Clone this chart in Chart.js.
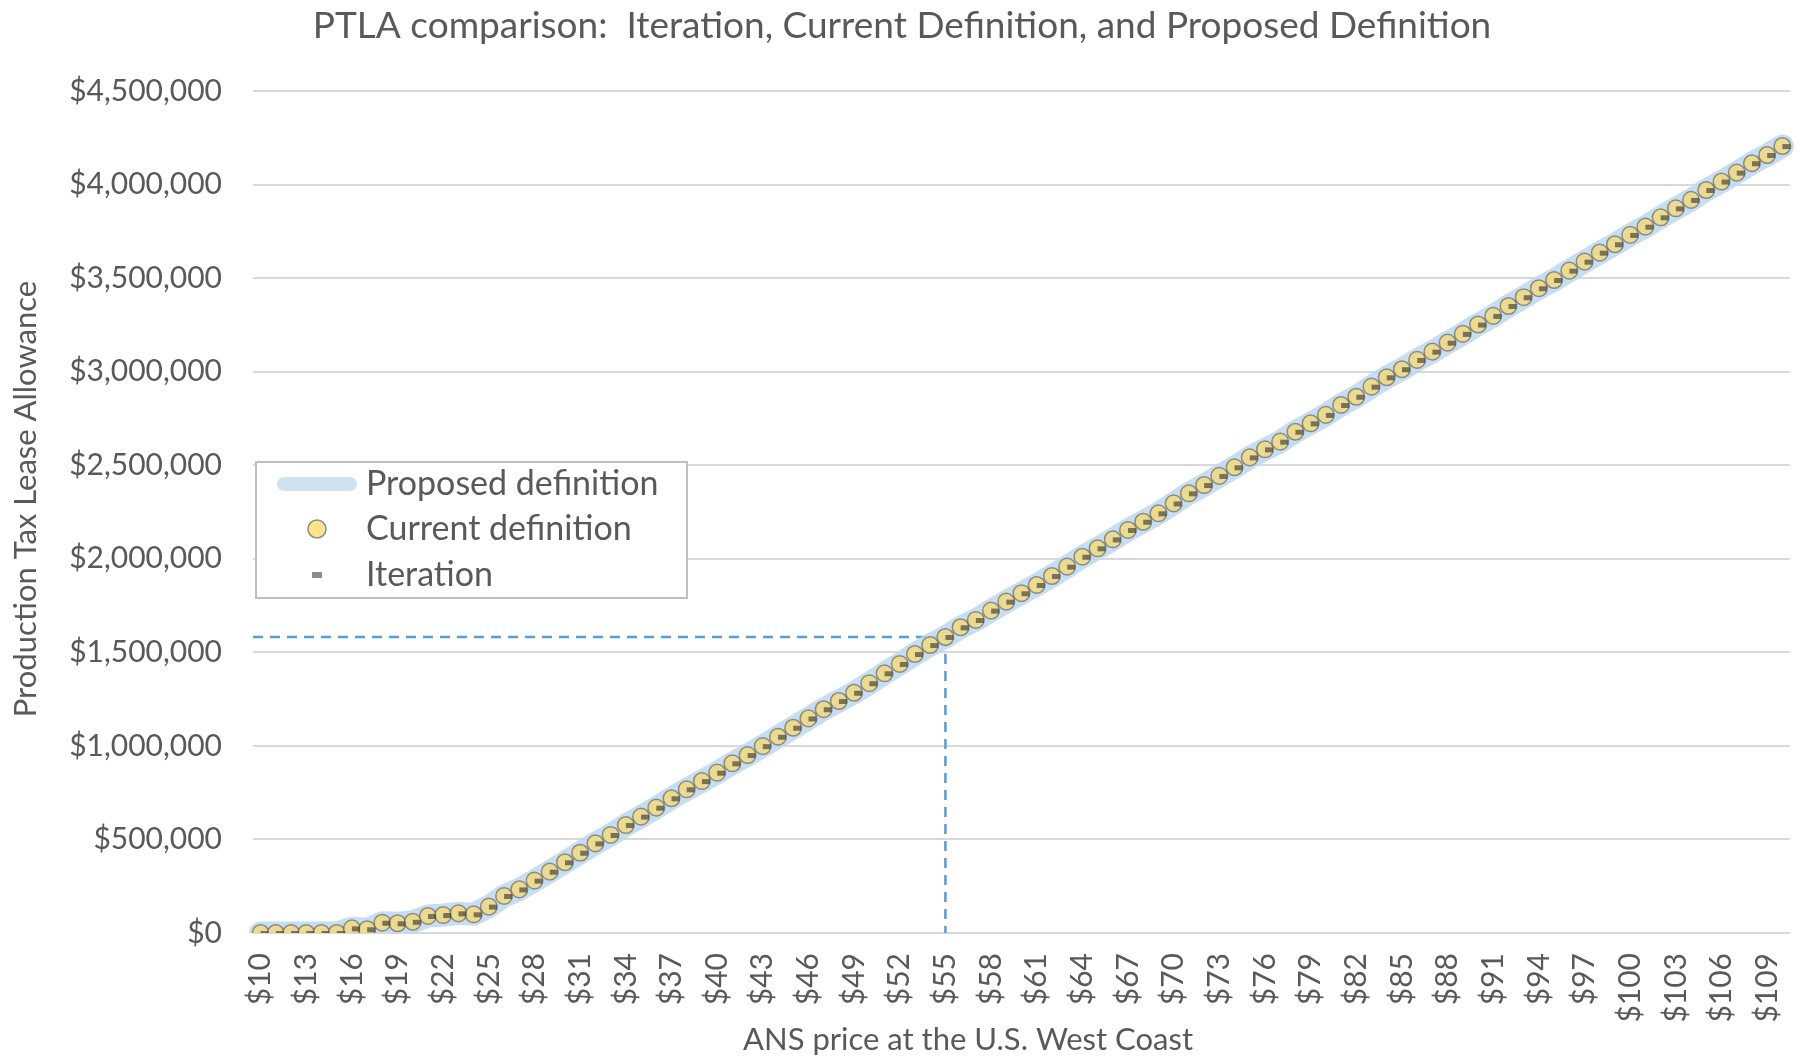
<!DOCTYPE html>
<html>
<head>
<meta charset="utf-8">
<script src="https://cdn.jsdelivr.net/npm/chart.js@4.4.1/dist/chart.umd.min.js"></script>
<style>
  html, body { margin: 0; padding: 0; background: #ffffff; }
  #wrap { width: 1800px; height: 1057px; position: relative; }
</style>
</head>
<body>
<div id="wrap"><canvas id="c"></canvas></div>
<script>
// ---------- DATA ----------
const prices = ['$10','$11','$12','$13','$14','$15','$16','$17','$18','$19','$20','$21','$22','$23','$24','$25','$26','$27','$28','$29','$30',
  '$31','$32','$33','$34','$35','$36','$37','$38','$39','$40','$41','$42','$43','$44','$45','$46','$47','$48','$49','$50',
  '$51','$52','$53','$54','$55','$56','$57','$58','$59','$60','$61','$62','$63','$64','$65','$66','$67','$68','$69','$70',
  '$71','$72','$73','$74','$75','$76','$77','$78','$79','$80','$81','$82','$83','$84','$85','$86','$87','$88','$89','$90',
  '$91','$92','$93','$94','$95','$96','$97','$98','$99','$100','$101','$102','$103','$104','$105','$106','$107','$108','$109','$110'];

const currentDefinition = [0,0,0,0,0,0,25000,20000,55000,52000,60000,91000,96000,105000,100000,141000,198000,233000,280000,328000,378000,
  429000,479000,524000,577000,622000,670000,720000,768000,812000,857000,907000,951000,999000,1049000,1097000,1147000,1196000,1240000,1284000,1335000,
  1388000,1438000,1491000,1539000,1582000,1634000,1673000,1723000,1771000,1816000,1860000,1908000,1958000,2011000,2056000,2104000,2154000,2198000,2243000,2296000,
  2350000,2394000,2443000,2489000,2542000,2585000,2626000,2679000,2724000,2769000,2822000,2866000,2920000,2970000,3013000,3063000,3107000,3155000,3202000,3252000,
  3298000,3351000,3398000,3446000,3490000,3540000,3588000,3636000,3681000,3731000,3775000,3825000,3873000,3918000,3971000,4016000,4064000,4114000,4158000,4206000];

// The three methods coincide on the picture
const proposedDefinition = currentDefinition;
const iteration = currentDefinition;

const seriesNames = ['Proposed definition', 'Current definition', 'Iteration'];
const yTicks = [0, 500000, 1000000, 1500000, 2000000, 2500000, 3000000, 3500000, 4000000, 4500000];
const markerPrice = '$55';

const chartTitle = 'PTLA comparison:  Iteration, Current Definition, and Proposed Definition';
const xTitle = 'ANS price at the U.S. West Coast';
const yTitle = 'Production Tax Lease Allowance';

// ---------- STYLE ----------
const FONT = 'Lato, "Noto Sans", sans-serif';
const TXT = '#595959';

function dashCanvas(w, h, rx, ry, rw, rh, color) {
  const c = document.createElement('canvas');
  c.width = w; c.height = h;
  const g = c.getContext('2d');
  g.fillStyle = color;
  g.fillRect(rx, ry, rw, rh);
  return c;
}
const iterMarker = dashCanvas(20, 12, 10, 4, 8, 5, 'rgba(55,50,40,0.62)');

const fmt = v => '$' + v.toLocaleString('en-US');

const decorPlugin = {
  id: 'decor',
  beforeDatasetsDraw(chart) {
    const { ctx, chartArea, scales } = chart;
    const idx = prices.indexOf(markerPrice);
    const xp = scales.x.getPixelForValue(idx);
    const yp = scales.y.getPixelForValue(currentDefinition[idx]);
    ctx.save();
    ctx.strokeStyle = '#5B9BD5';
    ctx.lineWidth = 2.5;
    ctx.setLineDash([10, 7]);
    ctx.beginPath();
    ctx.moveTo(chartArea.left, yp);
    ctx.lineTo(xp, yp);
    ctx.moveTo(xp, yp);
    ctx.lineTo(xp, chartArea.bottom);
    ctx.stroke();
    ctx.restore();
  },
  afterDraw(chart) {
    const { ctx } = chart;
    ctx.save();
    ctx.fillStyle = TXT;
    // title
    ctx.font = '37px ' + FONT;
    ctx.textAlign = 'center';
    ctx.textBaseline = 'middle';
    ctx.fillText(chartTitle, 902, 26);
    // axis titles
    ctx.font = '31px ' + FONT;
    ctx.fillText(xTitle, 968, 1040);
    ctx.save();
    ctx.translate(26, 499);
    ctx.rotate(-Math.PI / 2);
    ctx.fillText(yTitle, 0, 0);
    ctx.restore();

    // legend
    const bx = 256, by = 462, bw = 431, bh = 136;
    ctx.fillStyle = '#ffffff';
    ctx.fillRect(bx, by, bw, bh);
    ctx.strokeStyle = '#BFBFBF';
    ctx.lineWidth = 2;
    ctx.strokeRect(bx, by, bw, bh);
    const rows = [484, 529, 575];
    const sx = 317;
    // proposed symbol
    ctx.strokeStyle = '#D0E1F1';
    ctx.lineWidth = 14;
    ctx.lineCap = 'round';
    ctx.beginPath();
    ctx.moveTo(284, rows[0]);
    ctx.lineTo(350, rows[0]);
    ctx.stroke();
    // current symbol
    ctx.beginPath();
    ctx.arc(sx, rows[1], 9, 0, Math.PI * 2);
    ctx.fillStyle = '#FFE38A';
    ctx.fill();
    ctx.lineWidth = 1.5;
    ctx.strokeStyle = '#8C8C8C';
    ctx.stroke();
    // iteration symbol
    ctx.fillStyle = '#8C8C8C';
    ctx.fillRect(sx - 5, rows[2] - 3, 10, 6);
    // labels
    ctx.fillStyle = TXT;
    ctx.font = '34px ' + FONT;
    ctx.textAlign = 'left';
    ctx.textBaseline = 'middle';
    seriesNames.forEach((n, i) => ctx.fillText(n, 366, rows[i]));
    ctx.restore();
  }
};

new Chart(document.getElementById('c'), {
  type: 'line',
  data: {
    labels: prices,
    datasets: [
      {
        label: seriesNames[0],
        data: proposedDefinition,
        order: 3,
        borderColor: 'rgba(189,215,238,0.85)',
        borderWidth: 23,
        borderCapStyle: 'round',
        borderJoinStyle: 'round',
        pointRadius: 0,
        fill: false,
        tension: 0
      },
      {
        label: seriesNames[1],
        data: currentDefinition,
        order: 2,
        showLine: false,
        pointStyle: 'circle',
        pointRadius: 8.3,
        pointBackgroundColor: 'rgba(242,218,130,0.85)',
        pointBorderColor: 'rgba(85,85,85,0.6)',
        pointBorderWidth: 1.5
      },
      {
        label: seriesNames[2],
        data: iteration,
        order: 1,
        showLine: false,
        pointStyle: iterMarker,
        pointRadius: 6
      }
    ]
  },
  options: {
    responsive: true,
    maintainAspectRatio: false,
    animation: false,
    devicePixelRatio: 1,
    layout: { padding: { top: 91, right: 10, left: 0, bottom: 0 } },
    plugins: {
      legend: { display: false },
      title: { display: false },
      tooltip: { enabled: false }
    },
    scales: {
      x: {
        type: 'category',
        offset: true,
        grid: { display: false, drawTicks: false },
        border: { display: false },
        afterFit: s => { s.height = 124; s.paddingLeft = 0; s.paddingRight = 0; },
        ticks: {
          autoSkip: false,
          maxRotation: 90,
          minRotation: 90,
          padding: 20,
          color: TXT,
          font: { family: FONT, size: 30 },
          callback: (v, i) => (i % 3 === 0 ? prices[i] : '')
        }
      },
      y: {
        min: yTicks[0],
        max: yTicks[yTicks.length - 1],
        afterFit: s => { s.width = 253; },
        afterBuildTicks: s => { s.ticks = yTicks.map(v => ({ value: v })); },
        grid: { color: '#D9D9D9', lineWidth: 2, drawTicks: false },
        border: { display: false },
        ticks: {
          padding: 31,
          color: TXT,
          font: { family: FONT, size: 30 },
          callback: v => fmt(v)
        }
      }
    }
  },
  plugins: [decorPlugin]
});
</script>
</body>
</html>
